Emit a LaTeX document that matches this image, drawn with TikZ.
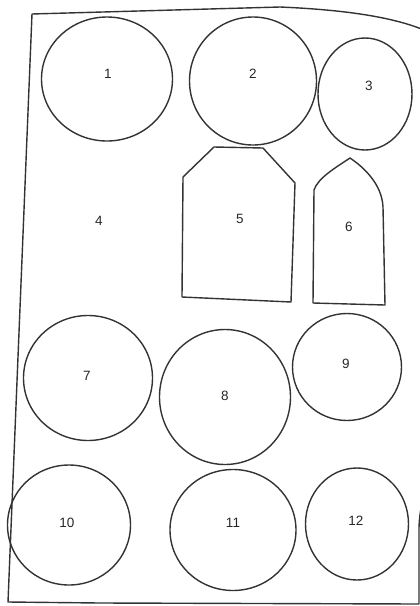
\documentclass[tikz,border=0pt]{standalone}
\usepackage{fontspec}
\setmainfont{Liberation Sans}
\usetikzlibrary{shapes.geometric}
\definecolor{ink}{HTML}{333333}
\tikzset{
  blob/.style={draw=ink, line width=1.4pt, ellipse, inner sep=0pt},
  lbl/.style={font=\fontsize{13.5}{13.5}\selectfont, text=black!85, inner sep=0pt},
  outline/.style={draw=ink, line width=1.4pt, line join=round}
}
\begin{document}
\begin{tikzpicture}[x=1pt,y=-1pt]
\useasboundingbox (0,0) rectangle (420,606);
% border
\draw[outline] (32,14) -- (280,7) .. controls (350,10) and (395,18) .. (424,30)
  -- (424,480) .. controls (424,500) and (419,510) .. (419,530) -- (419,604)
  -- (100,603) -- (8,602) -- cycle;
% circles
\node[blob, minimum width=131, minimum height=124] (c1) at (107,79) {};
\node[blob, minimum width=127, minimum height=128] (c2) at (253,81) {};
\node[blob, minimum width=94, minimum height=112] (c3) at (365,94) {};
\node[blob, minimum width=129, minimum height=125] (c7) at (88,378) {};
\node[blob, minimum width=131, minimum height=135] (c8) at (225,397) {};
\node[blob, minimum width=109, minimum height=107] (c9) at (347,367) {};
\node[blob, minimum width=123, minimum height=120] (c10) at (69,525) {};
\node[blob, minimum width=126, minimum height=121] (c11) at (233,530) {};
\node[blob, minimum width=103, minimum height=112] (c12) at (357,524) {};
% shape 5
\draw[outline] (183,177) -- (214,147) -- (263,148) -- (295,183) -- (291,302) -- (182,297) -- cycle;
% shape 6
\draw[outline] (314,190) .. controls (318,178) and (335,168) .. (350,158)
  .. controls (365,168) and (382,185) .. (383,207) -- (385,305) -- (313,303) -- cycle;
% labels
\node[lbl] (t1) at (108,74) {1};
\node[lbl] (t2) at (253,74) {2};
\node[lbl] (t3) at (369,86) {3};
\node[lbl] (t4) at (99,221) {4};
\node[lbl] (t5) at (240,219) {5};
\node[lbl] (t6) at (349,227) {6};
\node[lbl] (t7) at (87,376) {7};
\node[lbl] (t8) at (225,396) {8};
\node[lbl] (t9) at (346,364) {9};
\node[lbl] (t10) at (67,523) {10};
\node[lbl] (t11) at (233,523) {11};
\node[lbl] (t12) at (356,521) {12};
\end{tikzpicture}
\end{document}
